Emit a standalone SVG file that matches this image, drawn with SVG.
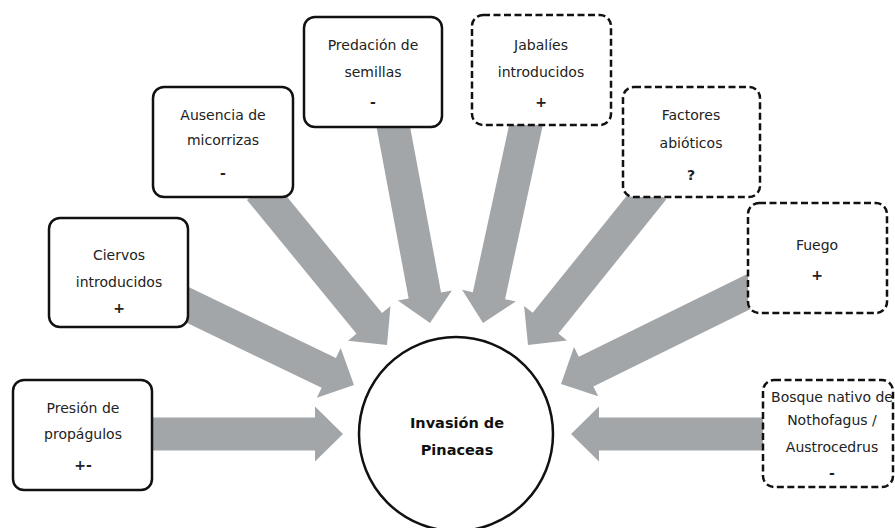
<svg xmlns="http://www.w3.org/2000/svg" width="895" height="528" viewBox="0 0 895 528">
<style>
.arr{fill:#a3a6a9;}
.box{fill:#fff;stroke:#111;stroke-width:2.5;}
.dash{stroke-dasharray:7,3.5;}
text{font-family:"DejaVu Sans","Verdana",sans-serif;font-size:14px;fill:#222;text-anchor:middle;}
.s{font-weight:bold;}
.b{font-weight:bold;font-size:14.5px;fill:#111;}
</style>
<g id="connectors">
<path class="arr" transform="translate(343,434) rotate(0)" d="M-201,-16.5 L-28,-16.5 L-28,-27.5 L0,0 L-28,27.5 L-28,16.5 L-201,16.5 Z"/>
<path class="arr" transform="translate(354,385) rotate(25.7)" d="M-195,-16.5 L-28,-16.5 L-28,-27.5 L0,0 L-28,27.5 L-28,16.5 L-195,16.5 Z"/>
<path class="arr" transform="translate(387,345) rotate(50.7)" d="M-201,-16.5 L-28,-16.5 L-28,-27.5 L0,0 L-28,27.5 L-28,16.5 L-201,16.5 Z"/>
<path class="arr" transform="translate(430,323) rotate(79.4)" d="M-211,-16.5 L-28,-16.5 L-28,-27.5 L0,0 L-28,27.5 L-28,16.5 L-211,16.5 Z"/>
<path class="arr" transform="translate(483,323) rotate(102.25)" d="M-213,-16.5 L-28,-16.5 L-28,-27.5 L0,0 L-28,27.5 L-28,16.5 L-213,16.5 Z"/>
<path class="arr" transform="translate(528,345) rotate(128.8)" d="M-200,-16.5 L-28,-16.5 L-28,-27.5 L0,0 L-28,27.5 L-28,16.5 L-200,16.5 Z"/>
<path class="arr" transform="translate(561,384) rotate(153.8)" d="M-218,-16.5 L-28,-16.5 L-28,-27.5 L0,0 L-28,27.5 L-28,16.5 L-218,16.5 Z"/>
<path class="arr" transform="translate(571,434) rotate(180)" d="M-202,-16.5 L-28,-16.5 L-28,-27.5 L0,0 L-28,27.5 L-28,16.5 L-202,16.5 Z"/>
</g>
<g id="presion">
<rect class="box" x="13" y="380" width="139" height="110" rx="11"/>
<text x="83" y="413">Presión de</text>
<text x="83" y="439">propágulos</text>
<text class="s" x="83" y="470">+-</text>
</g>
<g id="ciervos">
<rect class="box" x="49" y="218" width="139" height="109" rx="11"/>
<text x="119" y="260">Ciervos</text>
<text x="119" y="287">introducidos</text>
<text class="s" x="119" y="313">+</text>
</g>
<g id="ausencia">
<rect class="box" x="153" y="87" width="140" height="110" rx="11"/>
<text x="223" y="120">Ausencia de</text>
<text x="223" y="145">micorrizas</text>
<text class="s" x="223" y="178">-</text>
</g>
<g id="predacion">
<rect class="box" x="304" y="17" width="138" height="110" rx="11"/>
<text x="373" y="50">Predación de</text>
<text x="373" y="77">semillas</text>
<text class="s" x="373" y="107">-</text>
</g>
<g id="jabalies">
<rect class="box dash" x="472" y="15" width="139" height="110" rx="11"/>
<text x="541" y="50">Jabalíes</text>
<text x="541" y="77">introducidos</text>
<text class="s" x="541" y="107">+</text>
</g>
<g id="factores">
<rect class="box dash" x="623" y="87" width="137" height="110" rx="11"/>
<text x="691" y="120">Factores</text>
<text x="691" y="148">abióticos</text>
<text class="s" x="691" y="180">?</text>
</g>
<g id="fuego">
<rect class="box dash" x="748" y="203" width="139" height="110" rx="11"/>
<text x="817" y="250">Fuego</text>
<text class="s" x="817" y="280">+</text>
</g>
<g id="bosque">
<rect class="box dash" x="763" y="380" width="130" height="107" rx="11"/>
<text x="832" y="402">Bosque nativo de</text>
<text x="832" y="425">Nothofagus /</text>
<text x="832" y="452">Austrocedrus</text>
<text class="s" x="832" y="478">-</text>
</g>
<g id="invasion">
<circle class="box" cx="456" cy="434" r="97"/>
<text class="b" x="457" y="428">Invasión de</text>
<text class="b" x="457" y="455">Pinaceas</text>
</g>
</svg>
